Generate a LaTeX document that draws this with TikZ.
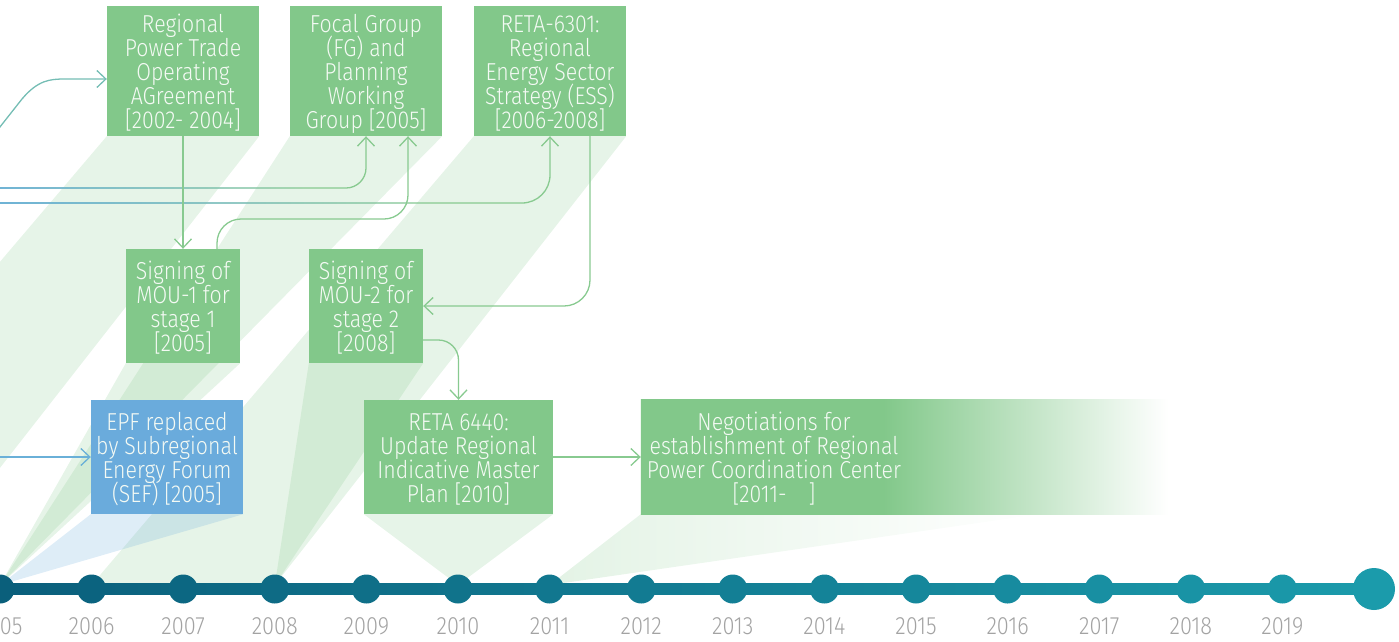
\documentclass[tikz,border=0pt]{standalone}
\usepackage{fontspec}
\setmainfont{Fira Sans}[UprightFont={* Light}, FakeStretch=0.87]
\usetikzlibrary{arrows.meta,fadings,backgrounds}

\definecolor{boxg}{HTML}{82C88A}
\definecolor{boxb}{HTML}{6AABDC}
\definecolor{lineg}{HTML}{88CA90}
\definecolor{lineb}{HTML}{6AB0D8}
\definecolor{lineteal}{HTML}{74BDB4}
\definecolor{tlL}{HTML}{0A5E7B}
\definecolor{tlR}{HTML}{1B9BAB}
\definecolor{yeargray}{HTML}{A3A3A3}
\definecolor{boxtext}{HTML}{F4FAF4}

\newcommand\evtfont{\fontsize{24.5}{24}\selectfont\lineskiplimit=-100pt\relax}
\newcommand\yrfont{\fontsize{25}{25}\selectfont}
% fixed top and bottom of a box text, so every box sets its lines alike
\newcommand\tS{\rule{0pt}{25pt}}
\newcommand\bS{\rule[-7pt]{0pt}{7pt}}

% blue start of the long feed lines, dissolving towards the right
\tikzfading[name=fadeout, left color=transparent!0, right color=transparent!100]
% open-ended box: solid for the first half, then fading into the page
\pgfdeclarehorizontalshading{openbox}{100bp}{color(0bp)=(boxg); color(25bp)=(boxg); color(48bp)=(boxg); color(75bp)=(white); color(100bp)=(white)}

\begin{document}
\begin{tikzpicture}[x=1pt,y=-1pt,
  evt/.style={fill=boxg, text=boxtext, inner sep=0pt, align=center, font=\evtfont},
  conn/.style={draw=lineg, line width=1.3pt},
  arr/.style={-{Straight Barb[length=9pt,width=17pt]}},
  shadeg/.style={fill=boxg, fill opacity=0.2},
  shadeb/.style={fill=boxb, fill opacity=0.22},
  yr/.style={text=yeargray, font=\yrfont, inner sep=0pt}]

\useasboundingbox (0,0) rectangle (1399,641);
\clip (0,0) rectangle (1399,641);

% year positions on the time axis
\foreach \n/\yv in {-3/2002,-1/2004,0/2005,1/2006,3/2008,5/2010,6/2011}
  \coordinate (t\yv) at (\n*91.6,585);

% event boxes
\node[evt, minimum width=152pt, minimum height=130pt] (b1) at (183,71)
  {\tS Regional\\Power Trade\\Operating\\AGreement\\{[}2002- 2004]\bS};
\node[evt, minimum width=152pt, minimum height=130pt] (b2) at (366,71)
  {\tS Focal Group\\(FG) and\\Planning\\Working\\Group [2005]\bS};
\node[evt, minimum width=152pt, minimum height=130pt] (b3) at (550,71)
  {\tS RETA-6301:\\Regional\\Energy Sector\\Strategy (ESS)\\{[}2006-2008]\bS};
\node[evt, minimum width=114pt, minimum height=114pt] (b4) at (183,306)
  {\tS Signing of\\MOU-1 for\\stage 1\\{[}2005]\bS};
\node[evt, minimum width=114pt, minimum height=114pt] (b5) at (366,306)
  {\tS Signing of\\MOU-2 for\\stage 2\\{[}2008]\bS};
\node[evt, fill=boxb, minimum width=152pt, minimum height=114pt] (b6) at (167,457)
  {\tS EPF replaced\\by Subregional\\Energy Forum\\(SEF) [2005]\bS};
\node[evt, minimum width=189pt, minimum height=114pt] (b7) at (458.5,457)
  {\tS RETA 6440:\\Update Regional\\Indicative Master\\Plan [2010]\bS};
\node[evt, fill=none, minimum width=527pt, minimum height=114pt] (b8) at (904.5,457) {};
\shade[shading=openbox] (b8.north west) rectangle (b8.south east);
\node[text=boxtext, font=\evtfont, align=center, inner sep=0pt] (b8t) at (774,457)
  {\tS Negotiations for\\establishment of Regional\\Power Coordination Center\\{[}2011-\hspace{22pt}]\bS};

% time spans linking each event to the axis
\begin{pgfonlayer}{background}
\path[shadeg] (b1.south west) -- (b1.south east) -- (t2004) -- (t2002) -- cycle;
\path[shadeg] (b2.south west) -- (b2.south east) -- (t2005) -- cycle;
\path[shadeg] (b3.south west) -- (b3.south east) -- (t2008) -- (t2006) -- cycle;
\path[shadeg] (b4.south west) -- (b4.south east) -- (t2005) -- cycle;
\path[shadeg] (b5.south west) -- (b5.south east) -- (t2008) -- cycle;
\path[shadeb] (b6.south west) -- (b6.south east) -- (t2005) -- cycle;
\path[shadeg] (b7.south west) -- (b7.south east) -- (t2010) -- cycle;
\shade[left color=boxg!22, right color=white] (b8.south west) -- (1040,514) -- (t2011) -- cycle;
\end{pgfonlayer}

% connectors
\coordinate (inA) at (-4,132);
\coordinate (inB) at (-30,188);
\coordinate (inC) at (-30,203);
\coordinate (inD) at (-30,457);
\coordinate (hMOU) at (0,219);
\coordinate (b4n) at ([xshift=34pt]b4.north);
\coordinate (b2s) at ([xshift=42pt]b2.south);
\coordinate (b3s) at ([xshift=40pt]b3.south);
\coordinate (b5e) at ([yshift=-34pt]b5.east);
\coordinate (fadeB) at (310,188);
\coordinate (fadeC) at (430,203);

\draw[conn, draw=lineteal, arr] (inA) -- (22,99) .. controls (38,80) and (50,79) .. (65,79) -- (b1.west |- 0,79);

\draw[conn, arr, rounded corners=20pt] (inB) -| (b2.south);
\draw[conn, draw=lineb, path fading=fadeout] (inB) -- (fadeB);
\draw[conn, arr, rounded corners=28pt] (inC) -| (b3.south);
\draw[conn, draw=lineb, path fading=fadeout] (inC) -- (fadeC);

\draw[conn, arr] (b1.south) -- (b4.north);
\draw[conn, arr, rounded corners=24pt] (b4n) |- (b2s |- hMOU) -- (b2s);
\draw[conn, arr, rounded corners=26pt] (b3s) |- (b5.east);
\draw[conn, arr, rounded corners=20pt] (b5e) -| (b7.north);
\draw[conn, arr] (b7.east) -- (b8.west);
\draw[conn, draw=lineb, arr] (inD) -- (b6.west);

% time axis
\shade[left color=tlL, right color=tlR] (-10,583.5) rectangle (1374,594.5);
\foreach \n in {0,...,14} {
  \pgfmathsetmacro\xx{\n*91.6}
  \pgfmathtruncatemacro\yy{2005+\n}
  \pgfmathtruncatemacro\pc{100-(\xx+10)/13.84}
  \fill[tlL!\pc!tlR] (\xx,589) circle[radius=14.5];
  \node[yr] (yr\yy) at (\xx,626) {\yy};
}
\fill[tlR] (1374,589) circle[radius=21];
\end{tikzpicture}
\end{document}
